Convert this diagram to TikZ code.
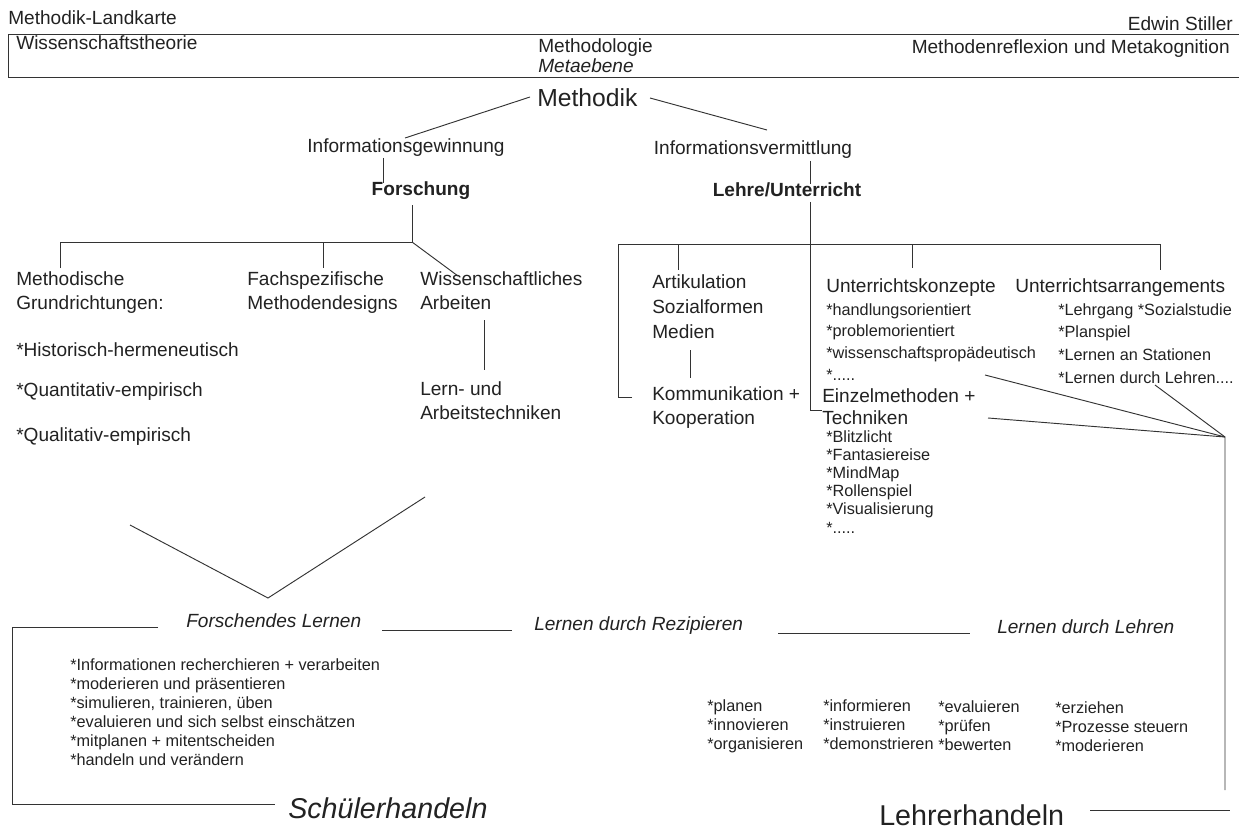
\documentclass[tikz,border=0pt]{standalone}
\usepackage{fontspec}
\setmainfont{Liberation Sans}
\newcommand{\fnorm}{\fontsize{14.3}{17.3}\selectfont}
\newcommand{\fsmall}{\fontsize{12.2}{14.2}\selectfont}
\newcommand{\fbig}{\fontsize{18.5}{22}\selectfont}
\newcommand{\fhuge}{\fontsize{21.5}{26}\selectfont}
\definecolor{ink}{HTML}{222222}
\definecolor{rule}{HTML}{333333}
\begin{document}
\begin{tikzpicture}[x=0.75pt,y=-0.75pt,
  txt/.style={inner sep=0pt, anchor=base west, font=\fnorm, align=left, text=ink},
  sm/.style={txt, font=\fsmall},
  ln/.style={draw=rule, line width=0.7pt}]
\useasboundingbox[fill=white] (0,0) rectangle (1239,831);

% header
\node[txt] (title) at (8,25) {Methodik-Landkarte};
\node[txt, anchor=base east] (author) at (1233,31) {Edwin Stiller};
\coordinate (b1) at (8,34); \coordinate (b2) at (1239,34);
\coordinate (b3) at (8,77); \coordinate (b4) at (1239,77);
\draw[ln] (b2) -- (b1) -- (b3) -- (b4);
\node[txt] (wt) at (16,50) {Wissenschaftstheorie};
\node[txt] (mlog) at (538,53) {Methodologie};
\node[txt, font=\fnorm\itshape] (meta) at (538,73) {Metaebene};
\node[txt, anchor=base east] (mref) at (1230,54) {Methodenreflexion und Metakognition};
\node[txt, font=\fbig] (methodik) at (537,107) {Methodik};

% level 2
\node[txt, anchor=base] (ig) at (406,153) {Informationsgewinnung};
\node[txt, anchor=base] (iv) at (753,155) {Informationsvermittlung};
\coordinate (m1) at (530,97); \coordinate (m1e) at (405,138);
\coordinate (m2) at (650,98); \coordinate (m2e) at (767,130);
\draw[ln] (m1) -- (m1e);
\draw[ln] (m2) -- (m2e);

\node[txt, anchor=base, font=\fnorm\bfseries] (fo) at (421,196) {Forschung};
\node[txt, anchor=base, font=\fnorm\bfseries] (lu) at (787,197) {Lehre/Unterricht};
\coordinate (f1) at (383,158); \coordinate (f2) at (383,183);
\draw[ln] (f1) -- (f2);
\coordinate (l1) at (810,161); \coordinate (l2) at (810,184);
\draw[ln] (l1) -- (l2);

% Forschung tree (multi-line nodes: base = last line)
\node[txt] (mg) at (16,309) {Methodische\\Grundrichtungen:};
\node[txt] (fm) at (247,309) {Fachspezifische\\Methodendesigns};
\node[txt] (wa) at (420,309) {Wissenschaftliches\\Arbeiten};
\node[txt] (la) at (420,419) {Lern- und\\Arbeitstechniken};
\node[txt] (hh) at (16,356) {*Historisch-hermeneutisch};
\node[txt] (qe) at (16,396) {*Quantitativ-empirisch};
\node[txt] (qle) at (16,441) {*Qualitativ-empirisch};
\coordinate (ft) at (412,205); \coordinate (fj) at (412,242);
\coordinate (fa) at (60,242); \coordinate (fad) at (60,268);
\coordinate (fb) at (323,242); \coordinate (fbd) at (323,268);
\coordinate (fcd) at (458,276);
\draw[ln] (fad) -- (fa) -- (fj) -- (ft);
\draw[ln] (fb) -- (fbd);
\draw[ln] (fj) -- (fcd);
\coordinate (wa1) at (484,320); \coordinate (wa2) at (484,370);
\draw[ln] (wa1) -- (wa2);

% Lehre tree
\node[txt, font=\fontsize{14.3}{18.5}\selectfont] (as) at (652,338) {Artikulation\\Sozialformen\\Medien};
\node[txt, font=\fontsize{14.3}{18}\selectfont] (kk) at (652,424) {Kommunikation +\\Kooperation};
\node[txt] (uk) at (826,292) {Unterrichtskonzepte};
\node[sm, font=\fontsize{12.2}{16.2}\selectfont] (ukl) at (826,380) {*handlungsorientiert\\*problemorientiert\\*wissenschaftspropädeutisch\\*.....};
\node[txt, font=\fontsize{14.3}{16.5}\selectfont] (em) at (822,424) {Einzelmethoden +\\Techniken};
\node[sm, font=\fontsize{12.2}{13.65}\selectfont] (eml) at (826,533) {*Blitzlicht\\*Fantasiereise\\*MindMap\\*Rollenspiel\\*Visualisierung\\*.....};
\node[txt] (ua) at (1015,292) {Unterrichtsarrangements};
\node[sm, font=\fontsize{12.2}{17}\selectfont] (ual) at (1058,383) {*Lehrgang *Sozialstudie\\*Planspiel\\*Lernen an Stationen\\*Lernen durch Lehren....};

\coordinate (lt) at (810,202); \coordinate (lb) at (810,410); \coordinate (le) at (822,410);
\draw[ln] (lt) -- (lb) -- (le);
\coordinate (ha) at (618,244); \coordinate (hz) at (1160,244);
\coordinate (hk) at (618,397); \coordinate (hke) at (632,397);
\coordinate (hzd) at (1160,270);
\draw[ln] (hke) -- (hk) -- (ha) -- (hz) -- (hzd);
\coordinate (ar1) at (678,244); \coordinate (ar2) at (678,270);
\draw[ln] (ar1) -- (ar2);
\coordinate (uk1) at (912,244); \coordinate (uk2) at (912,268);
\draw[ln] (uk1) -- (uk2);
\coordinate (ak1) at (690,350); \coordinate (ak2) at (690,378);
\draw[ln] (ak1) -- (ak2);

% converging lines
\coordinate (P) at (1225,437);
\coordinate (c1) at (985,375); \coordinate (c2) at (988,418); \coordinate (c3) at (1155,385);
\coordinate (Pd) at (1225,790);
\draw[ln] (c1) -- (P);
\draw[ln] (c2) -- (P);
\draw[ln] (c3) -- (P) -- (Pd);

% V
\coordinate (v1) at (130,525); \coordinate (v2) at (268,598); \coordinate (v3) at (425,497);
\draw[ln] (v1) -- (v2) -- (v3);

% middle row
\node[txt, font=\fnorm\itshape] (fl) at (186,627) {Forschendes Lernen};
\node[txt, font=\fnorm\itshape] (lr) at (534,630) {Lernen durch Rezipieren};
\node[txt, font=\fnorm\itshape] (ll) at (997,633) {Lernen durch Lehren};
\coordinate (s0) at (12,627); \coordinate (s1) at (158,627);
\coordinate (s2) at (382,630); \coordinate (s3) at (512,630);
\coordinate (s4) at (778,633); \coordinate (s5) at (970,633);
\coordinate (sb) at (12,804); \coordinate (sbe) at (275,804);
\draw[ln] (s1) -- (s0) -- (sb) -- (sbe);
\draw[ln] (s2) -- (s3);
\draw[ln] (s4) -- (s5);

% student list
\node[sm, font=\fontsize{12.2}{14.25}\selectfont] (sl) at (70,765) {*Informationen recherchieren + verarbeiten\\*moderieren und präsentieren\\*simulieren, trainieren, üben\\*evaluieren und sich selbst einschätzen\\*mitplanen + mitentscheiden\\*handeln und verändern};
\node[txt, font=\fhuge\itshape] (sh) at (288,818) {Schülerhandeln};

% teacher list
\node[sm, font=\fontsize{12.2}{14.25}\selectfont] (t1) at (707,749) {*planen\\*innovieren\\*organisieren};
\node[sm, font=\fontsize{12.2}{14.25}\selectfont] (t2) at (823,749) {*informieren\\*instruieren\\*demonstrieren};
\node[sm, font=\fontsize{12.2}{14.25}\selectfont] (t3) at (938,750) {*evaluieren\\*prüfen\\*bewerten};
\node[sm, font=\fontsize{12.2}{14.25}\selectfont] (t4) at (1055,751) {*erziehen\\*Prozesse steuern\\*moderieren};
\node[txt, font=\fhuge] (lh) at (879,825) {Lehrerhandeln};
\coordinate (lh1) at (1090,810); \coordinate (lh2) at (1230,810);
\draw[ln] (lh1) -- (lh2);
\end{tikzpicture}
\end{document}
